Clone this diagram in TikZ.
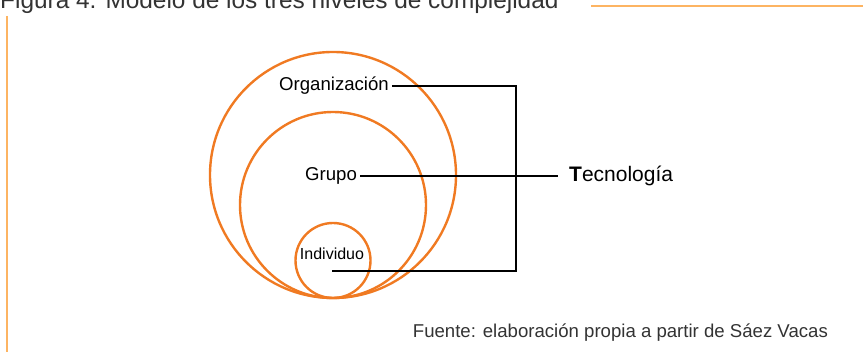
\documentclass[tikz,border=0pt]{standalone}
\usepackage{fontspec}
\setmainfont{Liberation Sans}
\definecolor{ringorange}{HTML}{F07A22}
\definecolor{frameorange}{HTML}{FDB462}
\definecolor{titlegray}{HTML}{333333}
\tikzset{
  >=latex,
  ring/.style={draw=ringorange,line width=2.4pt},
  level/.style={inner sep=3pt,font=\fontsize{18.6}{20}\selectfont},
  conn/.style={line width=2.2pt},
}

\begin{document}
\begin{tikzpicture}[x=1pt,y=-1pt]
    \useasboundingbox (0,0) rectangle (863,352);
    % frame
    \node[anchor=base west,inner sep=0pt,text=titlegray,font=\fontsize{24.4}{26}\selectfont] (title) at (0,9) {Figura 4. Modelo de los tres niveles de complejidad};
    \coordinate (ruleA) at (591,6);
    \coordinate (ruleB) at (863,6);
    \coordinate (ruleC) at (7,16);
    \coordinate (ruleD) at (7,352);
    \begin{scope}[frameorange,line width=2pt]
      \draw (ruleA) -- (ruleB);
      \draw (ruleC) -- (ruleD);
    \end{scope}
    % circles
    \begin{scope}[ring]
      \draw (333,175) circle (123);
      \draw (333,205) circle (93);
      \draw (333,260.5) circle (37.5);
    \end{scope}
    \node[level] (org) at (334,86) {Organización};
    \node[level] (grp) at (331,176) {Grupo};
    \node[level,font=\fontsize{16}{18}\selectfont] (ind) at (332,254) {Individuo};
    \node[anchor=west,inner sep=0pt,font=\fontsize{21}{23}\selectfont] (tec) at (569,176) {\textbf{T}ecnología};
    \coordinate (indend) at (332,271);
    \coordinate (top) at (516,86);
    \coordinate (bot) at (516,271);
    \draw[conn] (org.east) -- (top) -- (bot) -- (indend);
    \draw[conn] (grp.east) -- ([xshift=-11pt]tec.west);
    \node[anchor=west,inner sep=0pt,text=titlegray,font=\fontsize{18.6}{20}\selectfont] (source) at (412.7,333) {Fuente: elaboración propia a partir de Sáez Vacas};
  \end{tikzpicture}
\end{document}
